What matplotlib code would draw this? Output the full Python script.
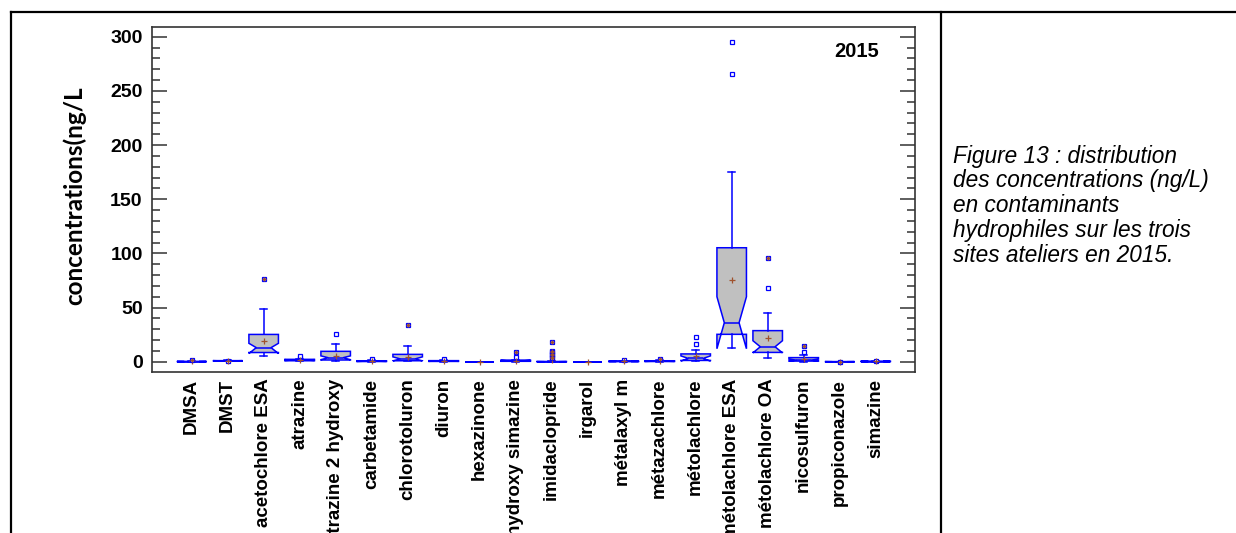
import matplotlib
matplotlib.use("Agg")
import matplotlib.pyplot as plt
from matplotlib.ticker import MultipleLocator
from matplotlib.lines import Line2D

# ---------------- data ----------------
labels = ["DMSA", "DMST", "acetochlore ESA", "atrazine", "atrazine 2 hydroxy",
          "carbetamide", "chlorotoluron", "diuron", "hexazinone", "hydroxy simazine",
          "imidaclopride", "irgarol", "métalaxyl m", "métazachlore", "métolachlore",
          "métolachlore ESA", "métolachlore OA", "nicosulfuron", "propiconazole", "simazine"]

q1 = [0.0, 0.6, 8.5, 0.9, 1.6, 0.2, 0.9, 0.3, 0.0, 0.4,
      0.0, 0.0, 0.1, 0.2, 1.2, 25.3, 8.6, 0.6, 0.0, 0.1]
medians = [0.1, 0.8, 13.0, 1.5, 3.7, 0.5, 2.6, 0.6, 0.0, 0.8,
           0.0, 0.0, 0.3, 0.5, 3.0, 36.0, 13.8, 1.5, 0.0, 0.2]
q3 = [0.3, 1.0, 25.2, 2.2, 9.6, 0.9, 6.8, 1.0, 0.0, 1.5,
      0.2, 0.0, 0.5, 0.9, 7.2, 105.2, 28.7, 3.8, 0.1, 0.4]
whisker_low = [0.0, 0.5, 5.3, 0.5, 1.0, 0.1, 0.5, 0.2, 0.0, 0.1,
               0.0, 0.0, 0.0, 0.1, 0.5, 12.3, 3.1, 0.2, 0.0, 0.0]
whisker_high = [0.6, 1.2, 48.6, 2.8, 16.6, 1.5, 14.8, 1.5, 0.1, 2.0,
                0.4, 0.1, 0.8, 1.4, 10.4, 175.4, 45.2, 6.0, 0.2, 0.6]
means = [0.4, 0.8, 19.4, 1.6, 5.6, 0.6, 4.6, 0.7, 0.0, 1.0,
         1.6, 0.0, 0.4, 0.7, 5.0, 75.4, 21.6, 2.2, 0.1, 0.4]
notch_low = [0.0, 0.6, 7.6, 1.2, 1.9, 0.3, 0.8, 0.4, 0.0, 0.5,
             0.0, 0.0, 0.2, 0.3, 0.6, 12.0, 8.2, 0.8, 0.0, 0.1]
notch_high = [0.3, 1.0, 17.0, 1.9, 5.4, 0.8, 4.5, 0.9, 0.0, 1.2,
              0.1, 0.0, 0.4, 0.8, 5.4, 60.0, 19.4, 2.4, 0.1, 0.3]

# outside points (plain squares)
outside_points = [[], [1.0], [], [3.6, 5.6], [25.9], [2.8], [], [2.3], [], [4.0],
                  [], [], [1.4], [], [16.6, 23.1], [265.2, 295.4], [68.0], [8.7], [], [0.8]]
# far outside points (squares with a plus sign)
far_points = [[1.6], [], [76.6], [], [], [], [34.2], [], [], [8.6],
              [18.5, 10.0, 8.6, 7.2, 5.8, 4.3, 3.0], [], [], [2.5], [], [], [96.0], [14.8], [0.2], []]

year_text = "2015"
ylabel_text = "concentrations(ng/L"
caption_lines = ["Figure 13 : distribution",
                 "des concentrations (ng/L)",
                 "en contaminants",
                 "hydrophiles sur les trois",
                 "sites ateliers en 2015."]

# ---------------- figure ----------------
W, H = 1236, 533
fig = plt.figure(figsize=(W / 100, H / 100), dpi=100)
fig.patch.set_facecolor("white")

ax_l, ax_r, ax_t, ax_b = 151.7, 915.3, 26.7, 371.7
ax = fig.add_axes([ax_l / W, 1 - ax_b / H, (ax_r - ax_l) / W, (ax_b - ax_t) / H])

blue = "#0000ff"
brown = "#a0522d"
n = len(labels)
stats = []
for i in range(n):
    stats.append(dict(med=medians[i], q1=q1[i], q3=q3[i],
                      whislo=whisker_low[i], whishi=whisker_high[i],
                      mean=means[i], cilo=notch_low[i], cihi=notch_high[i],
                      fliers=outside_points[i], label=labels[i]))

positions = list(range(n))
lw = 1.1
ax.bxp(stats, positions=positions, widths=0.82, capwidths=0.21,
       shownotches=True, showmeans=True, patch_artist=True,
       boxprops=dict(facecolor="#c0c0c0", edgecolor=blue, linewidth=lw),
       whiskerprops=dict(color=blue, linewidth=lw),
       capprops=dict(color=blue, linewidth=lw),
       medianprops=dict(color=blue, linewidth=lw),
       meanprops=dict(marker="+", markeredgecolor=brown, markersize=4.5,
                      markeredgewidth=0.9, linestyle="none"),
       flierprops=dict(marker="s", markerfacecolor="white", markeredgecolor=blue,
                       markersize=3, markeredgewidth=0.9, linestyle="none"))

for i, pts in enumerate(far_points):
    if pts:
        xs = [positions[i]] * len(pts)
        ax.plot(xs, pts, linestyle="none", marker="s", markerfacecolor="#c09070",
                markeredgecolor=blue, markersize=3.2, markeredgewidth=0.9, zorder=4)
        ax.plot(xs, pts, linestyle="none", marker="+", markeredgecolor=brown,
                markersize=3.2, markeredgewidth=0.9, zorder=5)

ax.set_xlim(-1.11, 20.1)
ax.set_ylim(-9.2, 309.2)

ax.yaxis.set_major_locator(MultipleLocator(50))
ax.yaxis.set_minor_locator(MultipleLocator(10))
ax.tick_params(axis="y", which="major", direction="in", length=10.8, width=1.1,
               left=True, right=True, pad=6.5, labelsize=14, color="#333333")
ax.tick_params(axis="y", which="minor", direction="in", length=5.5, width=1.1,
               left=True, right=True, color="#333333")
for lab in ax.get_yticklabels():
    lab.set_fontweight("bold")
    lab.set_family("Liberation Sans")

ax.set_xticks(positions)
ax.set_xticklabels(labels, rotation=90, fontsize=13.5, fontweight="bold",
                   family="Liberation Sans")
ax.tick_params(axis="x", length=0, pad=5)

for sp in ax.spines.values():
    sp.set_color("#333333")
    sp.set_linewidth(1.2)

ax.text((856.7 - ax_l) / (ax_r - ax_l), (ax_b - 51.7) / (ax_b - ax_t), year_text,
        transform=ax.transAxes, ha="center", va="center", fontsize=14.5,
        fontweight="bold", family="Liberation Sans")

fig.text(74 / W, 1 - 196 / H, ylabel_text, rotation=90, ha="center", va="center",
         fontsize=17.5, fontweight="bold", family="Lato")

# caption
for k, line in enumerate(caption_lines):
    fig.text(953 / W, 1 - (162.5 + 24.75 * k) / H, line, ha="left", va="baseline",
             fontsize=16.3, fontstyle="italic", family="Liberation Sans")

# outer frame
top_y = 1 - 12.3 / H
fig.add_artist(Line2D([11 / W, 1], [top_y, top_y], color="black", lw=1.6,
                      transform=fig.transFigure))
fig.add_artist(Line2D([11 / W, 11 / W], [0, top_y], color="black", lw=1.6,
                      transform=fig.transFigure))
fig.add_artist(Line2D([941 / W, 941 / W], [0, top_y], color="black", lw=1.6,
                      transform=fig.transFigure))

fig.savefig("out.png", dpi=100, facecolor="white")
